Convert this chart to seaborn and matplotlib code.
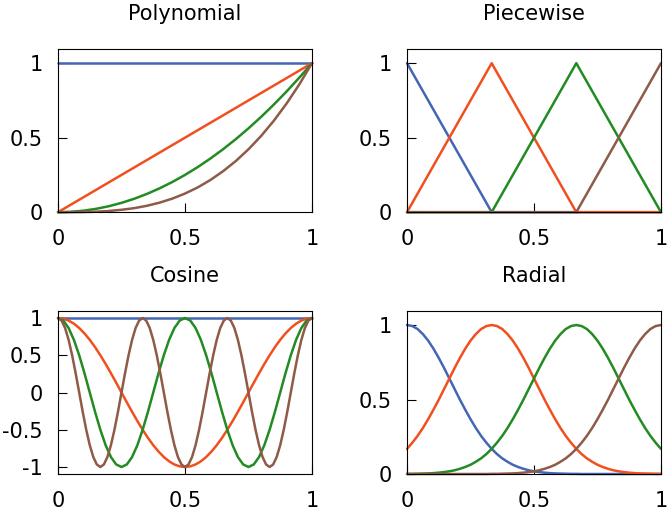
import matplotlib
matplotlib.use("Agg")
import matplotlib.pyplot as plt
import seaborn as sns

# ------------------- data -------------------
colors = ["#4466b3", "#f0501e", "#228b22", "#8f5a48"]

# Polynomial: 1, x, x^2, x^3
poly_x = [0, 0.05, 0.1, 0.15, 0.2, 0.25, 0.3, 0.35, 0.4, 0.45, 0.5,
          0.55, 0.6, 0.65, 0.7, 0.75, 0.8, 0.85, 0.9, 0.95, 1]
poly_const = [1] * 21
poly_lin = [0, 0.05, 0.1, 0.15, 0.2, 0.25, 0.3, 0.35, 0.4, 0.45, 0.5,
            0.55, 0.6, 0.65, 0.7, 0.75, 0.8, 0.85, 0.9, 0.95, 1]
poly_sq = [0, 0.0025, 0.01, 0.0225, 0.04, 0.0625, 0.09, 0.1225, 0.16, 0.2025, 0.25,
           0.3025, 0.36, 0.4225, 0.49, 0.5625, 0.64, 0.7225, 0.81, 0.9025, 1]
poly_cube = [0, 0, 0.001, 0.003, 0.008, 0.016, 0.027, 0.043, 0.064, 0.091, 0.125,
             0.166, 0.216, 0.275, 0.343, 0.422, 0.512, 0.614, 0.729, 0.857, 1]

# Piecewise: hat functions
pw_x = [0, 1 / 3, 2 / 3, 1]
pw_0 = [1, 0, 0, 0]
pw_1 = [0, 1, 0, 0]
pw_2 = [0, 0, 1, 0]
pw_3 = [0, 0, 0, 1]

# Cosine (each curve on its own grid)
cos_x0 = [0, 1]
cos_0 = [1, 1]
cos_x1 = [k / 48 for k in range(49)]
cos_1 = [1, 0.991, 0.966, 0.924, 0.866, 0.793, 0.707, 0.609, 0.5, 0.383, 0.259, 0.131,
         0, -0.131, -0.259, -0.383, -0.5, -0.609, -0.707, -0.793, -0.866, -0.924, -0.966, -0.991,
         -1, -0.991, -0.966, -0.924, -0.866, -0.793, -0.707, -0.609, -0.5, -0.383, -0.259, -0.131,
         0, 0.131, 0.259, 0.383, 0.5, 0.609, 0.707, 0.793, 0.866, 0.924, 0.966, 0.991, 1]
cos_x2 = [k / 48 for k in range(49)]
cos_2 = [1, 0.966, 0.866, 0.707, 0.5, 0.259, 0, -0.259, -0.5, -0.707, -0.866, -0.966,
         -1, -0.966, -0.866, -0.707, -0.5, -0.259, 0, 0.259, 0.5, 0.707, 0.866, 0.966,
         1, 0.966, 0.866, 0.707, 0.5, 0.259, 0, -0.259, -0.5, -0.707, -0.866, -0.966,
         -1, -0.966, -0.866, -0.707, -0.5, -0.259, 0, 0.259, 0.5, 0.707, 0.866, 0.966, 1]
cos_x3 = [k / 72 for k in range(73)]
cos_3 = [1, 0.966, 0.866, 0.707, 0.5, 0.259, 0, -0.259, -0.5, -0.707, -0.866, -0.966,
         -1, -0.966, -0.866, -0.707, -0.5, -0.259, 0, 0.259, 0.5, 0.707, 0.866, 0.966,
         1, 0.966, 0.866, 0.707, 0.5, 0.259, 0, -0.259, -0.5, -0.707, -0.866, -0.966,
         -1, -0.966, -0.866, -0.707, -0.5, -0.259, 0, 0.259, 0.5, 0.707, 0.866, 0.966,
         1, 0.966, 0.866, 0.707, 0.5, 0.259, 0, -0.259, -0.5, -0.707, -0.866, -0.966,
         -1, -0.966, -0.866, -0.707, -0.5, -0.259, 0, 0.259, 0.5, 0.707, 0.866, 0.966, 1]

# Radial: bumps centred at 0, 1/3, 2/3, 1
rad_x = [k / 48 for k in range(49)]
rad_0 = [1, 0.993, 0.973, 0.939, 0.895, 0.841, 0.779, 0.712, 0.641, 0.570,
         0.499, 0.432, 0.368, 0.309, 0.256, 0.210, 0.169, 0.134, 0.105, 0.082,
         0.062, 0.047, 0.035, 0.025, 0.018, 0.013, 0.009, 0.006, 0.004, 0.003,
         0.002, 0.001, 0.001, 0, 0, 0, 0, 0, 0, 0, 0, 0, 0, 0, 0, 0, 0, 0, 0]
rad_1 = [0.169, 0.210, 0.256, 0.309, 0.368, 0.432, 0.499, 0.570, 0.641, 0.712,
         0.779, 0.841, 0.895, 0.939, 0.973, 0.993, 1, 0.993, 0.973, 0.939,
         0.895, 0.841, 0.779, 0.712, 0.641, 0.570, 0.499, 0.432, 0.368, 0.309,
         0.256, 0.210, 0.169, 0.134, 0.105, 0.082, 0.062, 0.047, 0.035, 0.025,
         0.018, 0.013, 0.009, 0.006, 0.004, 0.003, 0.002, 0.001, 0.001]
rad_2 = [0.001, 0.001, 0.002, 0.003, 0.004, 0.006, 0.009, 0.013, 0.018, 0.025,
         0.035, 0.047, 0.062, 0.082, 0.105, 0.134, 0.169, 0.210, 0.256, 0.309,
         0.368, 0.432, 0.499, 0.570, 0.641, 0.712, 0.779, 0.841, 0.895, 0.939,
         0.973, 0.993, 1, 0.993, 0.973, 0.939, 0.895, 0.841, 0.779, 0.712,
         0.641, 0.570, 0.499, 0.432, 0.368, 0.309, 0.256, 0.210, 0.169]
rad_3 = [0, 0, 0, 0, 0, 0, 0, 0, 0, 0, 0, 0, 0, 0, 0, 0,
         0.001, 0.001, 0.002, 0.003, 0.004, 0.006, 0.009, 0.013, 0.018, 0.025,
         0.035, 0.047, 0.062, 0.082, 0.105, 0.134, 0.169, 0.210, 0.256, 0.309,
         0.368, 0.432, 0.499, 0.570, 0.641, 0.712, 0.779, 0.841, 0.895, 0.939,
         0.973, 0.993, 1]

x_ticks = [0, 0.5, 1]
x_labels = ["0", "0.5", "1"]
y_ticks = [0, 0.5, 1]
y_labels = ["0", "0.5", "1"]
cos_ticks = [-1, -0.5, 0, 0.5, 1]
cos_labels = ["-1", "-0.5", "0", "0.5", "1"]

# ------------------- style -------------------
sns.set_style("ticks")
plt.rcParams["font.family"] = ["DejaVu Sans"]
plt.rcParams["axes.unicode_minus"] = False
plt.rcParams["text.color"] = "black"
plt.rcParams["xtick.color"] = "black"
plt.rcParams["ytick.color"] = "black"
plt.rcParams["axes.edgecolor"] = "black"

fig = plt.figure(figsize=(6.7, 5.15), dpi=100)

panels = [
    ("Polynomial", [0.0866, 0.588, 0.379, 0.3165],
     [(poly_x, poly_const), (poly_x, poly_lin), (poly_x, poly_sq), (poly_x, poly_cube)],
     (0, 1.094), y_ticks, y_labels),
    ("Piecewise", [0.6075, 0.588, 0.379, 0.3165],
     [(pw_x, pw_0), (pw_x, pw_1), (pw_x, pw_2), (pw_x, pw_3)],
     (0, 1.094), y_ticks, y_labels),
    ("Cosine", [0.0866, 0.0796, 0.379, 0.3165],
     [(cos_x0, cos_0), (cos_x1, cos_1), (cos_x2, cos_2), (cos_x3, cos_3)],
     (-1.094, 1.094), cos_ticks, cos_labels),
    ("Radial", [0.6075, 0.0796, 0.379, 0.3165],
     [(rad_x, rad_0), (rad_x, rad_1), (rad_x, rad_2), (rad_x, rad_3)],
     (0, 1.094), y_ticks, y_labels),
]

for title, pos, series, ylim, yt, yl in panels:
    ax = fig.add_axes(pos)
    for (xs, ys), c in zip(series, colors):
        sns.lineplot(x=xs, y=ys, ax=ax, color=c, lw=1.8, clip_on=False)
    ax.set_xlim(0, 1)
    ax.set_ylim(*ylim)
    ax.set_xticks(x_ticks)
    ax.set_xticklabels(x_labels)
    ax.set_yticks(yt)
    ax.set_yticklabels(yl)
    ax.tick_params(direction="in", length=6.5, width=0.8, labelsize=15, color="black",
                   labelcolor="black")
    ax.tick_params(axis="x", pad=12)
    ax.tick_params(axis="y", pad=11)
    for s in ax.spines.values():
        s.set_linewidth(0.8)
        s.set_color("black")
    ax.set_title(title, fontsize=15, pad=21, color="black")

fig.savefig("out.png", dpi=100)
